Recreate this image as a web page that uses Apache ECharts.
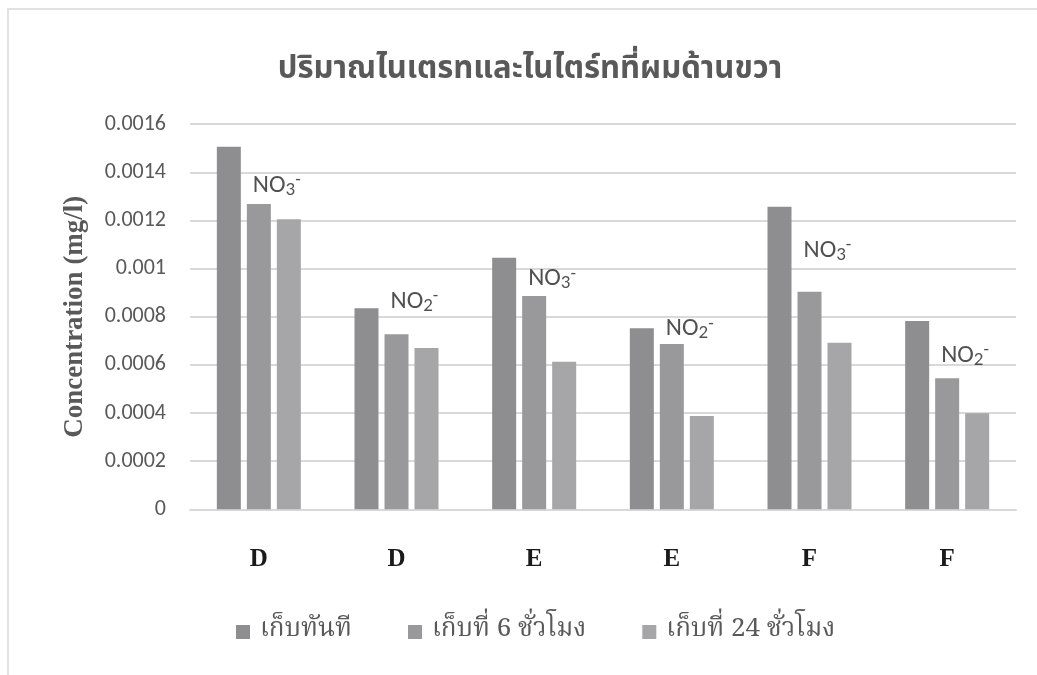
<!DOCTYPE html>
<html>
<head>
<meta charset="utf-8">
<script src="https://cdn.jsdelivr.net/npm/echarts@6/dist/echarts.min.js"></script>
<style>
  html, body { margin: 0; padding: 0; background: #ffffff; }
  #chart { width: 1037px; height: 675px; }
</style>
</head>
<body>
<div id="chart"></div>
<script>
// Sample groups along the x axis
const categories = ['D', 'D', 'E', 'E', 'F', 'F'];

// Storage-time series (mg/l)
const seriesNames = ['เก็บทันที', 'เก็บที่ 6 ชั่วโมง', 'เก็บที่ 24 ชั่วโมง'];
const immediate = [0.001506, 0.000835, 0.001045, 0.000752, 0.001257, 0.000782];
const after6h   = [0.001268, 0.000727, 0.000886, 0.000687, 0.000904, 0.000544];
const after24h  = [0.001205, 0.000670, 0.000613, 0.000388, 0.000692, 0.000399];

// Y axis ticks
const yMin = 0, yMax = 0.0016, yStep = 0.0002;

// Ion tags shown over each group: subscript digit and the level they sit at
const ionSubscripts = ['3', '2', '3', '2', '3', '2'];
const ionLevels = [0.001344, 0.000864, 0.000956, 0.000749, 0.001074, 0.000639];

const chartTitle = 'ปริมาณไนเตรทและไนไตร์ทที่ผมด้านขวา';
const yAxisName = 'Concentration (mg/l)';

const barColors = ['#8e8e91', '#99999b', '#a6a6a8'];
const sansFont = 'Carlito, "Open Sans", "Liberation Sans", sans-serif';
const thaiSans = '"Noto Sans Thai", "Noto Sans Thai UI", Loma, Garuda, Tahoma, sans-serif';
const thaiSerif = '"Noto Serif Thai", Norasi, "Tlwg Typo", "Liberation Serif", serif';

const chart = echarts.init(document.getElementById('chart'), null, { renderer: 'canvas' });

const barSeries = [immediate, after6h, after24h].map((vals, i) => ({
  name: seriesNames[i],
  type: 'bar',
  data: vals,
  barWidth: 24,
  barGap: '25%',
  itemStyle: { color: barColors[i] },
  emphasis: { disabled: true }
}));

chart.setOption({
  animation: false,
  backgroundColor: '#ffffff',
  legend: {
    data: seriesNames,
    left: 236,
    top: 619,
    padding: 0,
    itemWidth: 14,
    itemHeight: 14,
    itemGap: 56,
    icon: 'rect',
    textStyle: { fontFamily: thaiSerif, fontSize: 26, color: '#595959', padding: [0, 0, 0, 5] }
  },
  graphic: [{
    type: 'polyline',
    shape: { points: [[8, 675], [8, 9], [1037, 9]] },
    style: { stroke: '#d9d9d9', lineWidth: 1.5, fill: null },
    silent: true
  }, {
    type: 'text',
    x: 530,
    y: 72,
    style: {
      text: chartTitle,
      align: 'center',
      verticalAlign: 'middle',
      font: 'bold 31px ' + thaiSans,
      fill: '#595959'
    },
    silent: true
  }],
  grid: { left: 190, right: 21, top: 124.2, bottom: 165.7, containLabel: false },
  xAxis: {
    type: 'category',
    data: categories,
    axisLine: { show: true, lineStyle: { color: '#d9d9d9', width: 2 } },
    axisTick: { show: false },
    axisLabel: {
      margin: 38,
      fontFamily: '"Liberation Serif", "DejaVu Serif", serif',
      fontWeight: 'bold',
      fontSize: 25,
      color: '#1a1a1a'
    }
  },
  yAxis: {
    type: 'value',
    min: yMin,
    max: yMax,
    interval: yStep,
    name: yAxisName,
    nameLocation: 'middle',
    nameGap: 101,
    nameTextStyle: {
      fontFamily: '"Liberation Serif", "DejaVu Serif", serif',
      fontWeight: 'bold',
      fontSize: 27,
      color: '#595959'
    },
    axisLine: { show: false },
    axisTick: { show: false },
    splitLine: { lineStyle: { color: '#d9d9d9', width: 2 } },
    axisLabel: {
      margin: 24,
      fontFamily: sansFont,
      fontSize: 22,
      color: '#595959',
      formatter: v => String(+v.toFixed(4))
    }
  },
  series: barSeries.concat([{
    type: 'scatter',
    symbolSize: 0,
    silent: true,
    z: 5,
    data: ionLevels.map((lv, i) => [i, lv]),
    label: {
      show: true,
      position: 'right',
      distance: 0,
      offset: [-6, 0],
      formatter: p => '{n|NO}{s|' + ionSubscripts[p.dataIndex] + '}{p|-}',
      rich: {
        n: { fontFamily: sansFont, fontSize: 25, lineHeight: 28, color: '#262626' },
        s: { fontFamily: sansFont, fontSize: 19, lineHeight: 12, verticalAlign: 'bottom', color: '#262626' },
        p: { fontFamily: sansFont, fontSize: 18, lineHeight: 10, verticalAlign: 'top', color: '#262626' }
      }
    }
  }])
});
</script>
</body>
</html>
